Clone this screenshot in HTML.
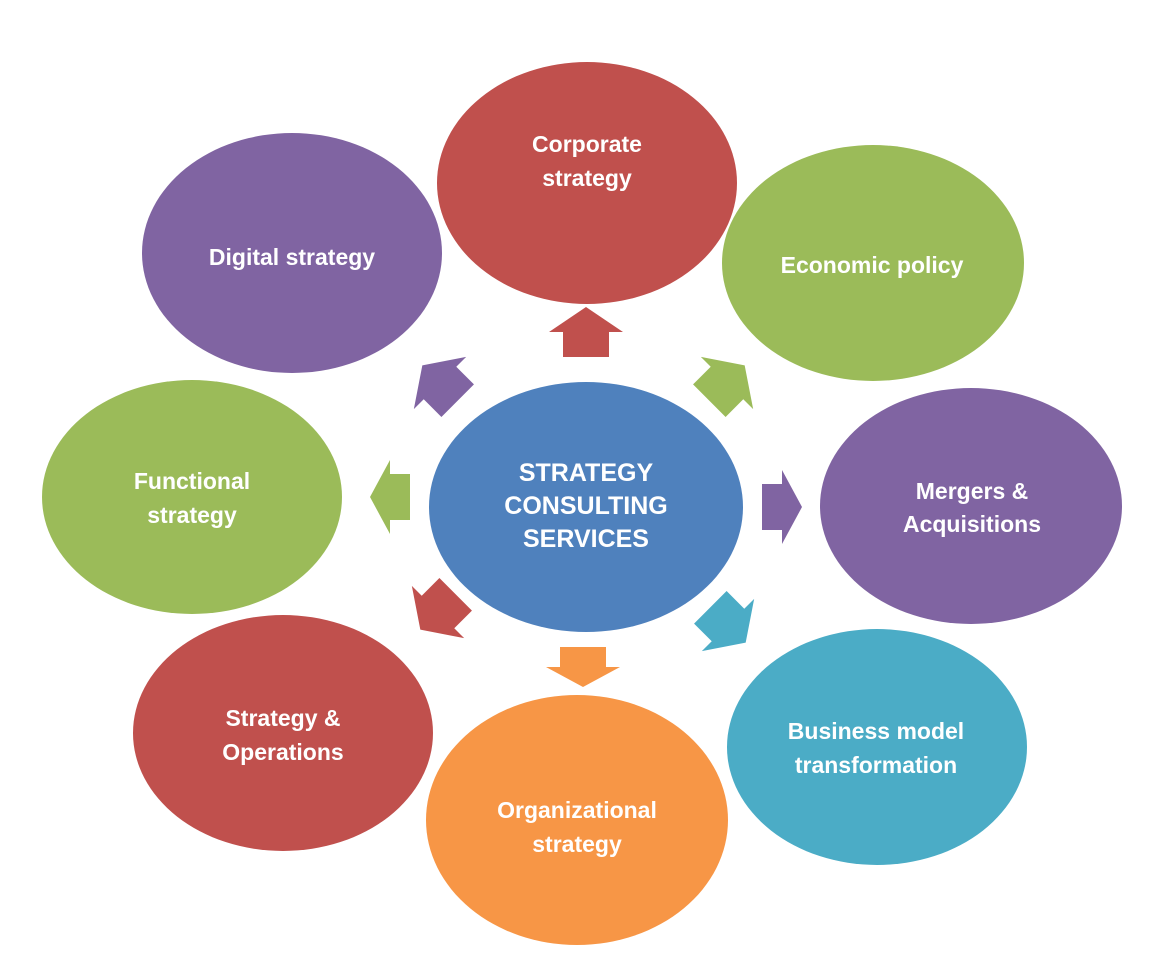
<!DOCTYPE html>
<html><head><meta charset="utf-8"><style>
html,body{margin:0;padding:0;background:#fff;}
svg{display:block;}
text{font-family:"Liberation Sans",sans-serif;font-weight:bold;fill:#fff;text-anchor:middle;}
</style></head><body>
<svg width="1176" height="962" viewBox="0 0 1176 962" xmlns="http://www.w3.org/2000/svg">
<defs>
<polygon id="a" points="0,-25 37,0 23,0 23,25 -23,25 -23,0 -37,0"/>
</defs>
<ellipse cx="587" cy="183" rx="150" ry="121" fill="#C0504D"/>
<ellipse cx="292" cy="253" rx="150" ry="120" fill="#8064A2"/>
<ellipse cx="873" cy="263" rx="151" ry="118" fill="#9BBB59"/>
<ellipse cx="192" cy="497" rx="150" ry="117" fill="#9BBB59"/>
<ellipse cx="971" cy="506" rx="151" ry="118" fill="#8064A2"/>
<ellipse cx="283" cy="733" rx="150" ry="118" fill="#C0504D"/>
<ellipse cx="877" cy="747" rx="150" ry="118" fill="#4BACC6"/>
<ellipse cx="577" cy="820" rx="151" ry="125" fill="#F79646"/>
<ellipse cx="586" cy="507" rx="157" ry="125" fill="#4F81BD"/>

<use href="#a" transform="translate(586,332)" fill="#C0504D"/>
<use href="#a" transform="translate(727,383) rotate(45)" fill="#9BBB59"/>
<use href="#a" transform="translate(782,507) rotate(90) scale(1,0.8)" fill="#8064A2"/>
<use href="#a" transform="translate(728,625) rotate(135)" fill="#4BACC6"/>
<use href="#a" transform="translate(583,667) rotate(180) scale(1,0.8)" fill="#F79646"/>
<use href="#a" transform="translate(438,612) rotate(225)" fill="#C0504D"/>
<use href="#a" transform="translate(390,497) rotate(270) scale(1,0.8)" fill="#9BBB59"/>
<use href="#a" transform="translate(440,383) rotate(315)" fill="#8064A2"/>

<g font-size="23">
<text x="587" y="152">Corporate</text>
<text x="587" y="186">strategy</text>
<text x="292" y="265">Digital strategy</text>
<text x="872" y="273">Economic policy</text>
<text x="192" y="489">Functional</text>
<text x="192" y="523">strategy</text>
<text x="972" y="499">Mergers &amp;</text>
<text x="972" y="532">Acquisitions</text>
<text x="283" y="726">Strategy &amp;</text>
<text x="283" y="760">Operations</text>
<text x="876" y="739">Business model</text>
<text x="876" y="773">transformation</text>
<text x="577" y="818">Organizational</text>
<text x="577" y="852">strategy</text>
</g>
<g font-size="25" style="fill:#eef3fa">
<text x="586" y="481">STRATEGY</text>
<text x="586" y="514">CONSULTING</text>
<text x="586" y="547">SERVICES</text>
</g>
</svg>
</body></html>
